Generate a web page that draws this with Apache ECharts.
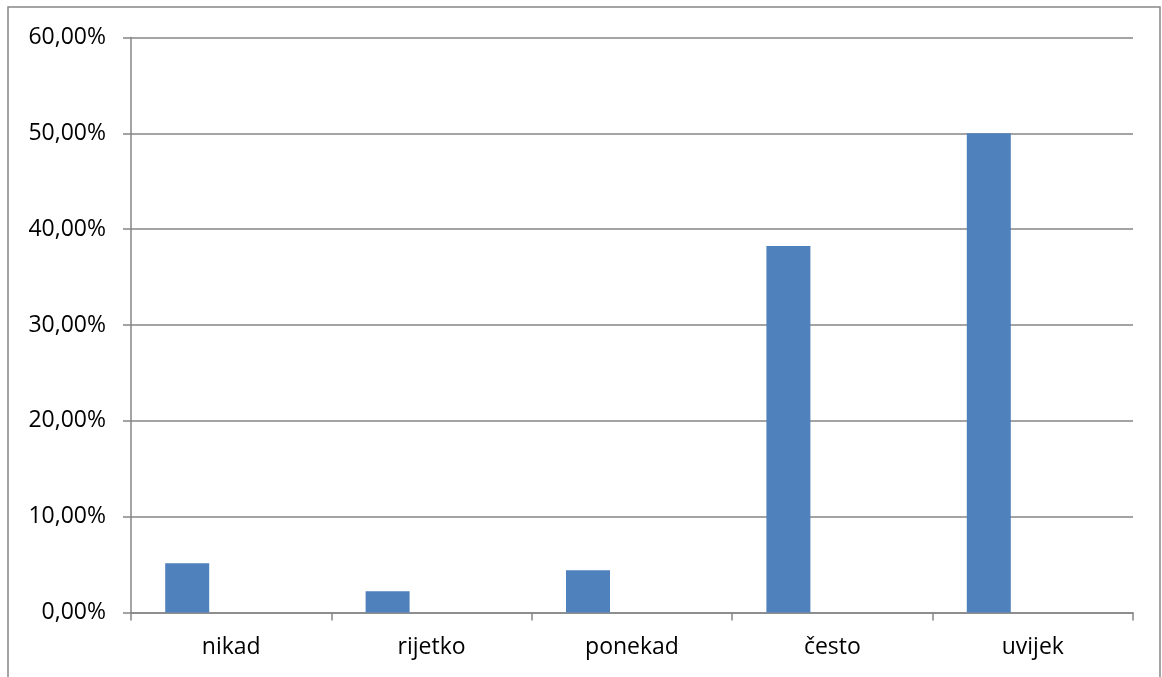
<!DOCTYPE html>
<html>
<head>
<meta charset="utf-8">
<script src="https://cdn.jsdelivr.net/npm/echarts@6/dist/echarts.min.js"></script>
<style>
html,body{margin:0;padding:0;background:#fff;}
#c{width:1162px;height:677px;}
</style>
</head>
<body>
<div id="c"></div>
<script>
const categories = ['nikad', 'rijetko', 'ponekad', 'često', 'uvijek'];
const values = [5.15, 2.21, 4.41, 38.24, 50.0];
const emptySeries = [null, null, null, null, null];
const yTicks = [0, 10, 20, 30, 40, 50, 60];

const chart = echarts.init(document.getElementById('c'));
const fontFam = 'Open Sans, Lato, sans-serif';
chart.setOption({
  animation: false,
  graphic: [{
    type: 'rect',
    shape: { x: 8, y: 7, width: 1152, height: 700 },
    style: { fill: 'none', stroke: '#868686', lineWidth: 1.5 },
    silent: true
  }],
  grid: { left: 131, right: 29, top: 37.5, bottom: 64.5, containLabel: false },
  xAxis: {
    type: 'category',
    data: categories,
    boundaryGap: true,
    axisLine: { lineStyle: { color: '#868686', width: 1.5 } },
    axisTick: { show: true, inside: false, length: 8, alignWithLabel: false, lineStyle: { color: '#868686', width: 1.5 } },
    axisLabel: { color: '#000', fontSize: 23, fontFamily: fontFam, margin: 23 },
    splitLine: { show: false }
  },
  yAxis: {
    type: 'value',
    min: yTicks[0],
    max: yTicks[yTicks.length - 1],
    interval: 10,
    axisLine: { show: true, lineStyle: { color: '#868686', width: 1.5 } },
    axisTick: { show: true, length: 8, lineStyle: { color: '#868686', width: 1.5 } },
    axisLabel: {
      color: '#000', fontSize: 23, fontFamily: fontFam, margin: 25,
      formatter: v => v.toFixed(2).replace('.', ',') + '%'
    },
    splitLine: { show: true, lineStyle: { color: '#868686', width: 1.5 } }
  },
  series: [
    { type: 'bar', data: values, barWidth: 44, barGap: '100%', itemStyle: { color: '#4F81BD' } },
    { type: 'bar', data: emptySeries, barWidth: 44, itemStyle: { color: '#C0504D' } }
  ]
});
</script>
</body>
</html>
